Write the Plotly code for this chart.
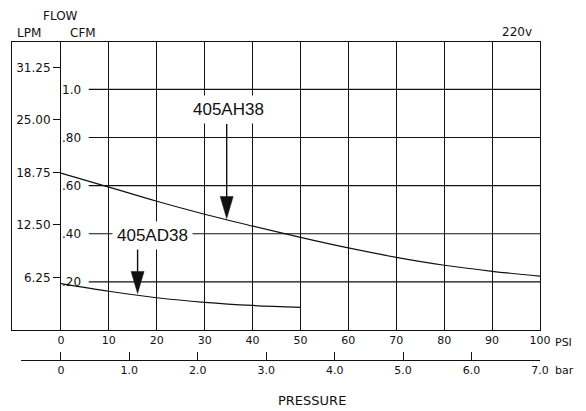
import plotly.graph_objects as go

# ---------------- data ----------------
psi_ticks = [0, 10, 20, 30, 40, 50, 60, 70, 80, 90, 100]
psi_labels = [str(v) for v in psi_ticks]
bar_ticks = [0, 1, 2, 3, 4, 5, 6, 7]
bar_labels = ["0", "1.0", "2.0", "3.0", "4.0", "5.0", "6.0", "7.0"]
cfm_ticks = [0.2, 0.4, 0.6, 0.8, 1.0]
cfm_labels = [".20", ".40", ".60", ".80", "1.0"]
lpm_ticks = [6.25, 12.5, 18.75, 25.0, 31.25]
lpm_labels = ["6.25", "12.50", "18.75", "25.00", "31.25"]

ah38_psi = [0, 10, 20, 30, 40, 50, 60, 70, 80, 90, 100]
ah38_cfm = [0.652, 0.594, 0.535, 0.481, 0.432, 0.385, 0.341, 0.302, 0.269, 0.244, 0.224]
ad38_psi = [0, 10, 20, 30, 40, 50]
ad38_cfm = [0.193, 0.161, 0.134, 0.115, 0.102, 0.094]

label_names = ["405AH38", "405AD38"]
label_text_psi = [34.9, 19.2]
label_text_cfm = [0.915, 0.393]
arrow_psi = [34.6, 16.0]
arrow_tail_cfm = [0.857, 0.342]
arrow_tip_cfm = [0.463, 0.152]

# ---------------- layout geometry (pixels) ----------------
W, H = 586, 411
L, R, T, B = 12, 540, 42, 360       # paper area
PLOT_BOTTOM = 330                   # bottom of the grid box
X0_PX = 61                          # pixel of 0 PSI


def px(xp):
    return (xp - L) / (R - L)


def py(yp):
    return (B - yp) / (B - T)


FONT = "DejaVu Sans, Liberation Sans, Arial, sans-serif"
LBL_FONT = "Liberation Sans, Arial, sans-serif"
INK = "#111111"

fig = go.Figure()

fig.add_trace(go.Scatter(x=ah38_psi, y=ah38_cfm, mode="lines",
                         line=dict(color=INK, width=1.2, shape="spline", smoothing=1),
                         showlegend=False, hoverinfo="skip"))
fig.add_trace(go.Scatter(x=ad38_psi, y=ad38_cfm, mode="lines",
                         line=dict(color=INK, width=1.2, shape="spline", smoothing=1),
                         showlegend=False, hoverinfo="skip"))
# dummy traces so that the extra axes are drawn
fig.add_trace(go.Scatter(x=[None], y=[None], xaxis="x2", yaxis="y", showlegend=False, hoverinfo="skip"))
fig.add_trace(go.Scatter(x=[None], y=[None], xaxis="x", yaxis="y2", showlegend=False, hoverinfo="skip"))
fig.add_trace(go.Scatter(x=[None], y=[None], xaxis="x", yaxis="y3", showlegend=False, hoverinfo="skip"))

psi_per_px = 100 / (540.7 - X0_PX)
psi_left = -(X0_PX - L) * psi_per_px
cfm_top = 1.197
lpm_top = 34.26
bar_per_px = 7 / (541 - X0_PX)
bar_left_px = 21
bar_left = -(X0_PX - bar_left_px) * bar_per_px

ytick_font = dict(family=FONT, size=12, color=INK)
xtick_font = dict(family=FONT, size=11, color=INK)

fig.update_layout(
    width=W, height=H, autosize=False,
    margin=dict(l=L, r=W - R, t=T, b=H - B, pad=0),
    paper_bgcolor="white", plot_bgcolor="rgba(0,0,0,0)",
    font=dict(family=FONT, size=12, color=INK),
    xaxis=dict(range=[psi_left, 100], tickvals=psi_ticks, ticktext=psi_labels,
               showgrid=True, gridcolor=INK, gridwidth=1.2,
               showline=True, mirror=True, linecolor=INK, linewidth=1.2,
               ticks="", zeroline=False, tickfont=xtick_font, anchor="y"),
    yaxis=dict(domain=[py(PLOT_BOTTOM), 1], range=[0, cfm_top],
               showline=True, mirror=True, linecolor=INK, linewidth=1.2,
               showgrid=False, zeroline=False, showticklabels=False, ticks="",
               anchor="x"),
    yaxis2=dict(overlaying="y", anchor="free", position=px(X0_PX), side="left",
                range=[0, lpm_top], tickvals=lpm_ticks, ticktext=lpm_labels,
                ticks="outside", ticklen=8, tickcolor=INK, tickwidth=1.2,
                showline=False, showgrid=False, zeroline=False, tickfont=ytick_font),
    yaxis3=dict(overlaying="y", anchor="free", position=px(X0_PX), side="right",
                range=[0, cfm_top], tickvals=cfm_ticks, ticktext=cfm_labels,
                ticks="", showline=False, showgrid=False, zeroline=False,
                tickfont=ytick_font),
    xaxis2=dict(domain=[px(bar_left_px), 1], anchor="free", position=0,
                range=[bar_left, 7], tickvals=bar_ticks, ticktext=bar_labels,
                ticks="inside", ticklen=8, tickcolor=INK, tickwidth=1.2,
                showline=True, linecolor=INK, linewidth=1.2,
                showgrid=False, zeroline=False, tickfont=xtick_font),
)

# horizontal grid lines (start right of the CFM labels)
for v in cfm_ticks:
    fig.add_shape(type="line", xref="x", yref="y", x0=5.8, x1=100, y0=v, y1=v,
                  line=dict(color=INK, width=1.2), layer="below")

# arrows
for xa, yt, yh in zip(arrow_psi, arrow_tail_cfm, arrow_tip_cfm):
    fig.add_shape(type="line", xref="x", yref="y", x0=xa, x1=xa, y0=yt, y1=yh + 0.03,
                  line=dict(color=INK, width=1.4))
    fig.add_shape(type="path", xref="x", yref="y",
                  xsizemode="pixel", ysizemode="pixel", xanchor=xa, yanchor=yh,
                  path="M -6.5 22 L 6.5 22 L 0 0 Z",
                  fillcolor=INK, line=dict(color=INK, width=0.5))

# model labels
for name, xt, yt in zip(label_names, label_text_psi, label_text_cfm):
    fig.add_annotation(x=xt, y=yt, xref="x", yref="y", text=name, showarrow=False,
                       bgcolor="white", borderpad=4,
                       font=dict(family=LBL_FONT, size=17, color=INK))

# static texts
texts = [
    ("FLOW", 60, 16, "center", 12),
    ("LPM", 29, 33, "center", 12),
    ("CFM", 83, 33, "center", 12),
    ("220v", 517, 32, "center", 12),
    ("PSI", 553, 342, "left", 11),
    ("bar", 553, 370, "left", 11),
    ("PRESSURE", 312, 400, "center", 13),
]
for t, xp, yp, al, fs in texts:
    fig.add_annotation(x=px(xp), y=py(yp), xref="paper", yref="paper", text=t,
                       showarrow=False, xanchor=al, yanchor="middle",
                       font=dict(family=FONT, size=fs, color=INK))

fig.write_html("out.html", config={"displayModeBar": False},
               post_script="document.body.style.margin='0';")
